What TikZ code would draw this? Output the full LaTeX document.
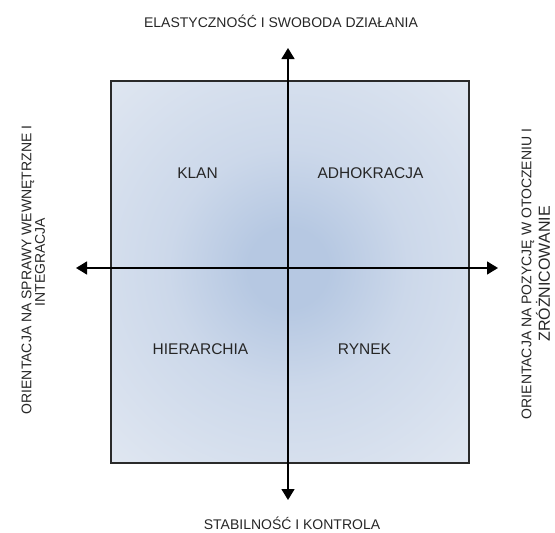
\documentclass[tikz,border=0pt]{standalone}
\usepackage{fontspec}
\setmainfont{Liberation Sans}
\usetikzlibrary{arrows.meta}
\definecolor{edgeblue}{HTML}{E3E9F2}
\definecolor{midblue}{HTML}{CCD8EA}
\definecolor{coreblue}{HTML}{B6C8E2}
\definecolor{boxline}{HTML}{2A2A2A}
\definecolor{txt}{HTML}{262626}
\pgfdeclareradialshading{glow}{\pgfpoint{0bp}{0bp}}{color(0bp)=(coreblue); color(5bp)=(coreblue); color(15bp)=(midblue); color(36bp)=(edgeblue); color(50bp)=(edgeblue)}
\tikzset{
  axisline/.style={line width=1.4pt, draw=black, {Triangle[width=13pt,length=11pt]}-{Triangle[width=13pt,length=11pt]}},
  sidetext/.style={text=txt, inner sep=0pt, font=\fontsize{14}{16}\selectfont},
  quadtext/.style={text=txt, inner sep=0pt, font=\fontsize{15.5}{18}\selectfont},
}
\begin{document}
\begin{tikzpicture}[x=1pt,y=-1pt]
\useasboundingbox (0,0) rectangle (555,533);
\begin{scope}
  \clip (111,81) rectangle (469,463);
  \shade[shading=glow] (88,68) rectangle (488,468);
\end{scope}
\node (box) [draw=boxline, line width=1.4pt, minimum width=358pt, minimum height=382pt, inner sep=0pt] at (290,272) {};
\coordinate (N) at (288,48);
\coordinate (S) at (288,500);
\coordinate (W) at (76,268);
\coordinate (E) at (498,268);
\draw[axisline] (S) -- (N);
\draw[axisline] (W) -- (E);
\node (top) [sidetext] at (281,21) {ELASTYCZNOŚĆ I SWOBODA DZIAŁANIA};
\node (bottom) [sidetext] at (292,523) {STABILNOŚĆ I KONTROLA};
\node (left1) [sidetext, rotate=90] at (28,270) {ORIENTACJA NA SPRAWY WEWNĘTRZNE I};
\node (left2) [sidetext, rotate=90] at (40,262) {INTEGRACJA};
\node (right1) [sidetext, rotate=90] at (528,274) {ORIENTACJA NA POZYCJĘ W OTOCZENIU I};
\node (right2) [sidetext, rotate=90, font=\fontsize{16}{18}\selectfont] at (543,274) {ZRÓŻNICOWANIE};
\node (klan) [quadtext] at (197.5,173) {KLAN};
\node (adho) [quadtext] at (370.5,173) {ADHOKRACJA};
\node (hier) [quadtext] at (200.5,349) {HIERARCHIA};
\node (rynek) [quadtext] at (364.5,349) {RYNEK};
\end{tikzpicture}
\end{document}
